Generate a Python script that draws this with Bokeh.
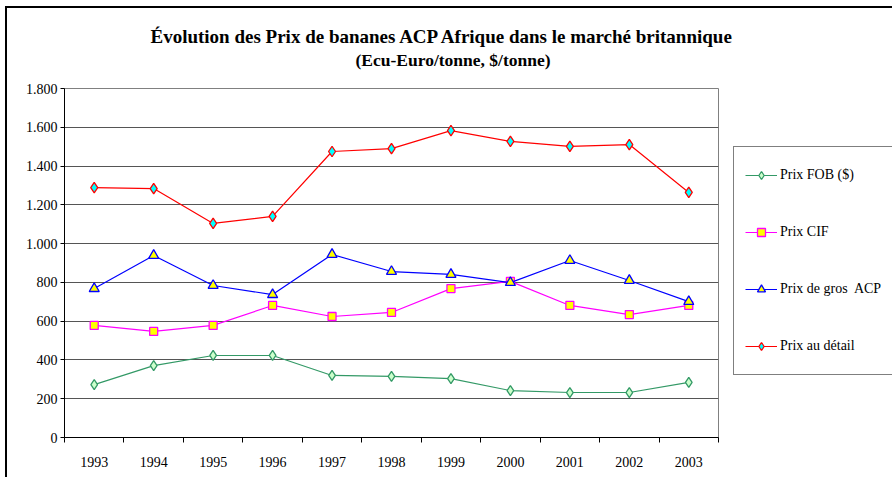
from bokeh.plotting import figure
from bokeh.models import (FixedTicker, Legend, LegendItem, Title)
from bokeh.embed import file_html
from bokeh.resources import INLINE

years = ["1993", "1994", "1995", "1996", "1997", "1998", "1999", "2000", "2001", "2002", "2003"]
prix_fob = [273, 371, 423, 423, 320, 315, 304, 242, 232, 232, 284]
prix_cif = [578, 547, 578, 681, 624, 645, 768, 805, 681, 634, 681]
prix_gros = [768, 939, 784, 737, 944, 856, 841, 799, 913, 810, 701]
prix_detail = [1289, 1284, 1104, 1140, 1475, 1490, 1583, 1527, 1501, 1511, 1264]
y_ticks = [0, 200, 400, 600, 800, 1000, 1200, 1400, 1600, 1800]
y_labels = ["0", "200", "400", "600", "800", "1.000", "1.200", "1.400", "1.600", "1.800"]

x = [i + 0.5 for i in range(len(years))]
FONT = "Liberation Serif"

p = figure(frame_width=654, frame_height=349,
           min_border_left=57, min_border_right=174,
           min_border_top=80, min_border_bottom=40,
           x_range=(0, len(years)), y_range=(0, 1800),
           output_backend="svg", toolbar_location=None,
           background_fill_color="white", border_fill_color="white")
p.margin = (6, 0, 0, 5)
p.styles = {"border-left": "2px solid #000", "border-top": "2px solid #000"}

p.outline_line_color = "#808080"
p.outline_line_width = 1

# titles
sub = Title(text="(Ecu-Euro/tonne, $/tonne)", align="left", offset=291,
            text_font=FONT, text_font_size="17.5px", text_font_style="bold",
            text_color="black", standoff=37)
main = Title(text="Évolution des Prix de bananes ACP Afrique dans le marché britannique",
             align="left", offset=86, text_font=FONT, text_font_size="19px",
             text_font_style="bold", text_color="black", standoff=-34)
p.add_layout(sub, "above")
p.add_layout(main, "above")

# axes
p.xaxis.ticker = FixedTicker(ticks=x, minor_ticks=list(range(len(years) + 1)))
p.xaxis.major_label_overrides = {xx: yr for xx, yr in zip(x, years)}
p.xaxis.major_tick_line_color = None
p.xaxis.major_tick_out = 0
p.xaxis.major_tick_in = 0
p.xaxis.minor_tick_line_color = "black"
p.xaxis.minor_tick_out = 5
p.xaxis.minor_tick_in = 0
p.xaxis.major_label_standoff = 14
p.xaxis.axis_line_color = "black"

p.yaxis.ticker = FixedTicker(ticks=y_ticks, minor_ticks=[])
p.yaxis.major_label_overrides = {t: l for t, l in zip(y_ticks, y_labels)}
p.yaxis.major_tick_out = 4
p.yaxis.major_tick_in = 0
p.yaxis.major_tick_line_color = "black"
p.yaxis.minor_tick_line_color = None
p.yaxis.major_label_standoff = 3
p.yaxis.axis_line_color = "black"

for ax in (p.xaxis, p.yaxis):
    ax.major_label_text_font = FONT
    ax.major_label_text_font_size = "14px"
    ax.major_label_text_color = "black"

p.xgrid.grid_line_color = None
p.ygrid.ticker = FixedTicker(ticks=y_ticks)
p.ygrid.grid_line_color = "#555555"
p.ygrid.grid_line_width = 1

series = [
    ("Prix FOB ($)", prix_fob, "#339966", "diamond", "#CCFFCC", 10),
    ("Prix CIF", prix_cif, "#FF00FF", "square", "#FFFF00", 8),
    ("Prix de gros  ACP", prix_gros, "#0000FF", "triangle", "#FFFF00", 10),
    ("Prix au détail", prix_detail, "#FF0000", "diamond", "#00FFFF", 10.5),
]
items = []
for label, vals, col, mk, fill, sz in series:
    l = p.line(x, vals, line_color=col, line_width=1.2)
    s = p.scatter(x, vals, marker=mk, size=sz, fill_color=fill,
                  line_color=col, line_width=1.3)
    items.append(LegendItem(label=label, renderers=[l, s]))

legend = Legend(items=items, location=(15, 62),
                label_text_font=FONT, label_text_font_size="14px", label_text_color="black",
                padding=11, spacing=23, label_height=34, glyph_height=20, glyph_width=32,
                label_standoff=3, label_width=98, margin=0,
                border_line_color="black", border_line_width=1,
                background_fill_color="white", background_fill_alpha=1.0)
p.add_layout(legend, "right")

open("out.html", "w").write(file_html(p, INLINE))
